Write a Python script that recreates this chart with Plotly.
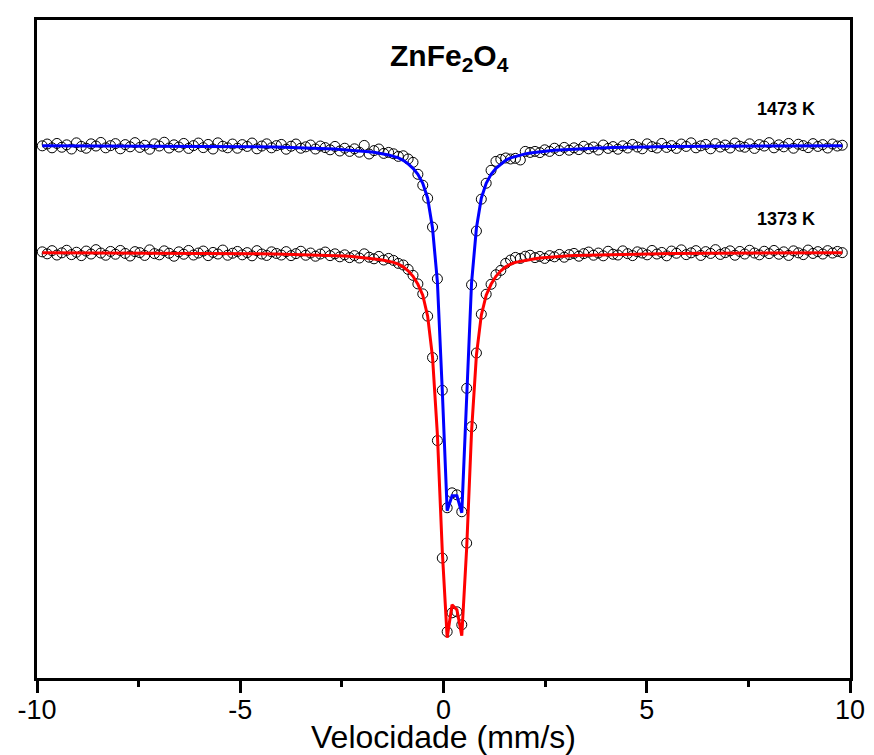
import plotly.graph_objects as go

# Channel velocities (mm/s)
velocity = [
    -9.87, -9.75, -9.63, -9.51, -9.39, -9.27, -9.15, -9.03, -8.91, -8.79,
    -8.67, -8.55, -8.43, -8.31, -8.19, -8.07, -7.95, -7.83, -7.71, -7.59,
    -7.47, -7.35, -7.23, -7.11, -6.99, -6.87, -6.75, -6.63, -6.51, -6.39,
    -6.27, -6.15, -6.03, -5.91, -5.79, -5.67, -5.55, -5.43, -5.31, -5.19,
    -5.07, -4.95, -4.83, -4.71, -4.59, -4.47, -4.35, -4.23, -4.11, -3.99,
    -3.87, -3.75, -3.63, -3.51, -3.39, -3.27, -3.15, -3.03, -2.91, -2.79,
    -2.67, -2.55, -2.43, -2.31, -2.19, -2.07, -1.95, -1.83, -1.71, -1.59,
    -1.47, -1.35, -1.23, -1.11, -0.99, -0.87, -0.75, -0.63, -0.51, -0.39,
    -0.27, -0.15, -0.03, 0.09, 0.21, 0.33, 0.45, 0.57, 0.69, 0.81,
    0.93, 1.05, 1.17, 1.29, 1.41, 1.53, 1.65, 1.77, 1.89, 2.01,
    2.13, 2.25, 2.37, 2.49, 2.61, 2.73, 2.85, 2.97, 3.09, 3.21,
    3.33, 3.45, 3.57, 3.69, 3.81, 3.93, 4.05, 4.17, 4.29, 4.41,
    4.53, 4.65, 4.77, 4.89, 5.01, 5.13, 5.25, 5.37, 5.49, 5.61,
    5.73, 5.85, 5.97, 6.09, 6.21, 6.33, 6.45, 6.57, 6.69, 6.81,
    6.93, 7.05, 7.17, 7.29, 7.41, 7.53, 7.65, 7.77, 7.89, 8.01,
    8.13, 8.25, 8.37, 8.49, 8.61, 8.73, 8.85, 8.97, 9.09, 9.21,
    9.33, 9.45, 9.57, 9.69, 9.81,
]

# Relative transmission (%) - 1473 K
trans_1473 = [
    99.98, 100.07, 99.88, 100.10, 99.91, 100.03, 99.82, 100.13, 99.95, 99.86,
    100.08, 99.97, 100.15, 99.88, 99.99, 100.09, 99.83, 100.04, 99.93, 100.14,
    99.90, 100.01, 99.81, 100.08, 99.97, 100.16, 99.87, 100.03, 99.92, 100.10,
    99.85, 99.99, 100.12, 99.89, 100.05, 99.82, 100.13, 99.96, 99.88, 100.07,
    99.86, 100.04, 99.95, 100.12, 99.83, 99.97, 100.08, 99.88, 99.99, 100.05,
    99.81, 99.96, 100.07, 99.86, 99.93, 100.02, 99.82, 99.97, 99.89, 99.78,
    99.95, 99.72, 99.86, 99.70, 99.83, 99.66, 100.00, 99.57, 99.74, 99.82,
    99.60, 99.65, 99.58, 99.45, 99.48, 99.32, 99.15, 98.55, 98.00, 97.35,
    95.90, 93.30, 87.70, 81.80, 82.55, 82.45, 81.60, 87.80, 93.00, 95.70,
    97.30, 98.10, 98.75, 99.20, 99.30, 99.37, 99.32, 99.35, 99.27, 99.70,
    99.65, 99.70, 99.64, 99.78, 99.70, 99.86, 99.74, 99.90, 99.76, 99.88,
    99.79, 99.96, 99.83, 99.92, 99.77, 100.02, 99.85, 99.94, 99.81, 99.98,
    99.87, 100.05, 99.92, 99.83, 100.08, 99.94, 99.87, 100.10, 99.90, 99.99,
    99.85, 100.07, 99.95, 100.13, 99.88, 99.98, 100.05, 99.83, 100.09, 99.92,
    100.02, 99.87, 100.12, 99.96, 99.91, 100.08, 99.85, 100.04, 99.97, 100.14,
    99.88, 100.03, 99.93, 100.10, 99.86, 100.06, 99.99, 99.89, 100.09, 99.95,
    100.04, 99.87, 100.07, 99.97, 100.01,
]

# Relative transmission (%) - 1373 K
trans_1373 = [
    100.03, 99.93, 100.09, 99.87, 99.98, 100.11, 99.89, 100.01, 99.84, 100.07,
    99.92, 100.14, 99.97, 99.86, 100.05, 99.91, 100.10, 99.95, 99.82, 100.04,
    99.99, 99.85, 100.13, 99.94, 99.88, 100.08, 99.96, 99.81, 100.03, 99.91,
    100.10, 99.87, 99.97, 100.07, 99.84, 100.00, 99.92, 100.12, 99.86, 99.96,
    100.05, 99.88, 99.99, 99.83, 100.09, 99.92, 99.85, 100.03, 99.95, 99.87,
    100.04, 99.84, 99.94, 100.06, 99.86, 99.97, 99.81, 99.92, 100.02, 99.84,
    99.93, 99.78, 99.88, 99.74, 99.84, 99.72, 99.93, 99.76, 99.68, 99.80,
    99.62, 99.70, 99.60, 99.45, 99.37, 99.15, 98.85, 98.42, 97.92, 96.80,
    94.72, 90.55, 84.65, 80.95, 81.90, 81.95, 81.30, 85.40, 91.25, 94.95,
    96.90, 97.90, 98.40, 98.88, 99.10, 99.45, 99.62, 99.75, 99.70, 99.81,
    99.86, 99.74, 99.80, 99.70, 99.84, 99.78, 99.90, 99.76, 99.89, 99.95,
    99.81, 99.94, 100.02, 99.86, 99.97, 99.83, 100.06, 99.91, 99.87, 100.08,
    99.94, 99.84, 100.03, 99.97, 99.88, 100.10, 99.92, 100.00, 99.83, 100.07,
    99.96, 100.13, 99.89, 99.98, 100.09, 99.85, 100.04, 99.95, 100.14, 99.90,
    99.99, 100.08, 99.86, 100.05, 99.92, 100.11, 99.97, 99.88, 100.06, 99.94,
    100.10, 99.91, 100.03, 99.85, 100.08, 99.98, 99.89, 100.12, 99.95, 100.04,
    99.92, 100.09, 99.97, 100.05, 99.99,
]

# Fitted curves (velocity grid of the fit)
fit_velocity = [
    -9.87, -8.91, -7.95, -6.99, -6.03, -5.07, -4.59, -4.11, -3.63, -3.15, -2.91,
    -2.67, -2.55, -2.43, -2.31, -2.19, -2.07, -1.95, -1.83, -1.71, -1.59,
    -1.47, -1.35, -1.23, -1.11, -0.99, -0.87, -0.75, -0.63, -0.51, -0.39,
    -0.27, -0.15, -0.03, 0.09, 0.21, 0.33, 0.45, 0.57, 0.69, 0.81,
    0.93, 1.05, 1.17, 1.29, 1.41, 1.53, 1.65, 1.77, 1.89, 2.01,
    2.13, 2.25, 2.37, 2.49, 2.61, 2.73, 2.85, 2.97, 3.09, 3.21,
    3.45, 3.69, 4.17, 4.65, 5.13, 5.61, 6.57, 7.53, 8.49, 9.45, 9.81,
]

fit_1473 = [
    99.985, 99.981, 99.977, 99.970, 99.960, 99.944, 99.933, 99.917, 99.895, 99.863, 99.842,
    99.815, 99.800, 99.785, 99.770, 99.755, 99.735, 99.710, 99.685, 99.655, 99.620,
    99.575, 99.520, 99.450, 99.375, 99.250, 99.075, 98.850, 98.550, 98.100, 97.350,
    95.850, 93.150, 87.700, 81.650, 82.400, 82.400, 81.550, 87.750, 93.100, 95.850,
    97.350, 98.100, 98.550, 98.850, 99.075, 99.250, 99.375, 99.450, 99.520, 99.575,
    99.620, 99.655, 99.685, 99.710, 99.735, 99.755, 99.770, 99.785, 99.800, 99.815,
    99.842, 99.863, 99.895, 99.917, 99.933, 99.944, 99.960, 99.970, 99.977, 99.981, 99.983,
]

fit_1373 = [
    99.985, 99.982, 99.977, 99.970, 99.960, 99.945, 99.935, 99.920, 99.900, 99.875, 99.863,
    99.850, 99.835, 99.820, 99.805, 99.785, 99.765, 99.745, 99.720, 99.685, 99.650,
    99.605, 99.555, 99.500, 99.410, 99.275, 99.075, 98.800, 98.400, 97.850, 96.800,
    94.750, 90.850, 85.000, 80.650, 82.300, 82.050, 80.750, 85.150, 91.000, 94.850,
    96.850, 97.850, 98.400, 98.800, 99.075, 99.275, 99.410, 99.500, 99.555, 99.605,
    99.650, 99.685, 99.720, 99.745, 99.765, 99.785, 99.805, 99.820, 99.835, 99.850,
    99.863, 99.875, 99.900, 99.920, 99.935, 99.945, 99.960, 99.970, 99.977, 99.982, 99.983,
]

offset_1473 = 5.375  # vertical shift of the 1473 K spectrum

x_tickvals = [-10, -5, 0, 5, 10]
x_ticktext = ["-10", "-5", "0", "5", "10"]

FONT = "Arial, Liberation Sans, sans-serif"

fig = go.Figure()

fig.add_trace(go.Scatter(
    x=velocity, y=[v + offset_1473 for v in trans_1473], mode="markers",
    marker=dict(symbol="circle-open", size=10, color="black", line=dict(width=1)),
    showlegend=False, name="1473 K data"))
fig.add_trace(go.Scatter(
    x=velocity, y=trans_1373, mode="markers",
    marker=dict(symbol="circle-open", size=10, color="black", line=dict(width=1)),
    showlegend=False, name="1373 K data"))
fig.add_trace(go.Scatter(
    x=fit_velocity, y=[v + offset_1473 for v in fit_1473], mode="lines",
    line=dict(color="#0000ff", width=3), showlegend=False, name="1473 K fit"))
fig.add_trace(go.Scatter(
    x=fit_velocity, y=fit_1373, mode="lines",
    line=dict(color="#ff0000", width=3), showlegend=False, name="1373 K fit"))

fig.update_layout(
    width=866, height=747,
    margin=dict(l=24, r=22, t=9, b=77),
    paper_bgcolor="white", plot_bgcolor="white",
    font=dict(family=FONT, color="black"),
    xaxis=dict(
        range=[-10, 10], tickvals=x_tickvals, ticktext=x_ticktext,
        ticks="outside", ticklen=12, tickwidth=3, tickcolor="black",
        minor=dict(dtick=2.5, tick0=0, ticks="outside", ticklen=6, tickwidth=3, tickcolor="black"),
        showline=True, linewidth=3, linecolor="black", mirror=True,
        showgrid=False, zeroline=False,
        tickfont=dict(size=27, family=FONT), ticklabelstandoff=-6,
    ),
    yaxis=dict(
        range=[78.625, 111.675], showticklabels=False, ticks="",
        showline=True, linewidth=3, linecolor="black", mirror=True,
        showgrid=False, zeroline=False,
    ),
    annotations=[
        dict(text="<b>ZnFe<sub>2</sub>O<sub>4</sub></b>", x=0.507, y=0.9425,
             xref="paper", yref="paper", showarrow=False,
             font=dict(size=30, family=FONT), xanchor="center", yanchor="middle"),
        dict(text="<b>1473 K</b>", x=0.921, y=0.865, xref="paper", yref="paper",
             showarrow=False, font=dict(size=18, family=FONT),
             xanchor="center", yanchor="middle"),
        dict(text="<b>1373 K</b>", x=0.921, y=0.697, xref="paper", yref="paper",
             showarrow=False, font=dict(size=18, family=FONT),
             xanchor="center", yanchor="middle"),
        dict(text="Velocidade (mm/s)", x=0.5, y=-0.0893, xref="paper", yref="paper",
             showarrow=False, font=dict(size=32, family=FONT), borderpad=0,
             xanchor="center", yanchor="middle"),
    ],
)

fig.write_html("out.html")
